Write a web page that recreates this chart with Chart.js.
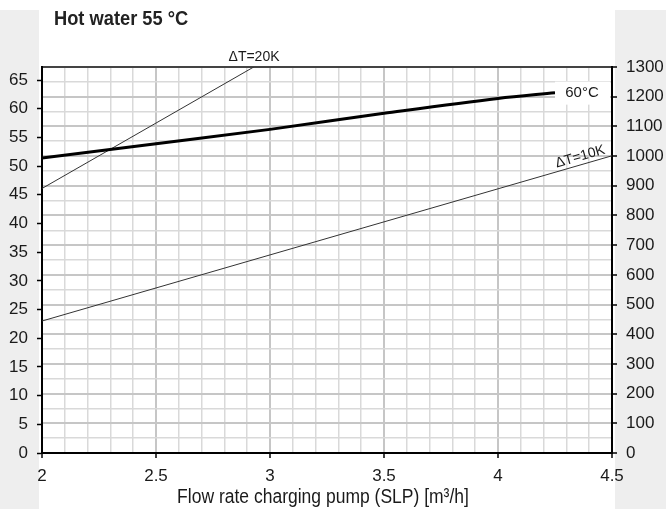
<!DOCTYPE html>
<html>
<head>
<meta charset="utf-8">
<script src="https://cdn.jsdelivr.net/npm/chart.js@4.4.1/dist/chart.umd.min.js"></script>
<style>
  html, body { margin: 0; padding: 0; background: #fff; }
  #wrap { width: 666px; height: 513px; position: relative; }
</style>
</head>
<body>
<div id="wrap"><canvas id="chart" width="666" height="513"></canvas></div>
<script>
/* Hot water 55 °C — output vs. charging pump flow rate */
const flow60C   = [2, 2.5, 3, 3.5, 4, 4.25];
const power60C  = [51.4, 53.9, 56.4, 59.2, 61.8, 62.8];
const flowDT10  = [2, 4.5];
const powerDT10 = [23.0, 51.8];
const flowDT20  = [2, 2.93];
const powerDT20 = [46.1, 67.3];

const xMin = 2, xMax = 4.5;
const leftMax = 67.27;     // left axis top (1300 on the right axis)
const rightMax = 1300;

const FONT = '"Liberation Sans", Arial, sans-serif';
Chart.defaults.font.family = FONT;
Chart.defaults.color = '#1a1a1a';

const isMultiple = (v, step) => Math.abs(v / step - Math.round(v / step)) < 1e-6;
const toPts = (xs, ys) => xs.map((x, i) => ({ x, y: ys[i] }));

// condensed text, the reference uses a narrow face
function narrowText(ctx, text, x, y, font, squeeze) {
  ctx.save();
  ctx.font = font;
  ctx.translate(x, y);
  ctx.scale(squeeze, 1);
  ctx.fillText(text, 0, 0);
  ctx.restore();
}

const decor = {
  id: 'decor',
  beforeDraw(chart) {
    const { ctx, chartArea: a, width, height } = chart;
    ctx.save();
    ctx.fillStyle = '#eeeeee';
    ctx.fillRect(0, 10, a.left - 3, height - 14);
    ctx.fillRect(a.right + 3, 10, width - a.right - 3, height - 14);
    ctx.restore();
  },
  afterDraw(chart) {
    const { ctx, chartArea: a, scales: { x, y } } = chart;
    ctx.save();

    // title
    ctx.fillStyle = '#222';
    ctx.textBaseline = 'middle';
    ctx.textAlign = 'left';
    narrowText(ctx, 'Hot water 55 °C', 54, 19, 'bold 21px ' + FONT, 0.87);

    // axis title
    ctx.fillStyle = '#1a1a1a';
    ctx.textAlign = 'center';
    narrowText(ctx, 'Flow rate charging pump (SLP) [m³/h]', (a.left + a.right) / 2 - 4, 497, '20px ' + FONT, 0.875);

    // ΔT=20K above the plot where the line leaves it
    ctx.font = '14px ' + FONT;
    ctx.fillText('\u0394T=20K', x.getPixelForValue(flowDT20[1]), a.top - 10);

    // 60°C label box at the end of the thick line
    const ex = x.getPixelForValue(flow60C[flow60C.length - 1]);
    const ey = y.getPixelForValue(power60C[power60C.length - 1]);
    ctx.fillStyle = '#fff';
    ctx.fillRect(ex, ey - 11, a.right - ex - 2, 23);
    ctx.fillStyle = '#1a1a1a';
    ctx.font = '15px ' + FONT;
    ctx.fillText('60°C', ex + 27, ey);

    // ΔT=10K rotated along its line
    const x0 = x.getPixelForValue(flowDT10[0]), y0 = y.getPixelForValue(powerDT10[0]);
    const x1 = x.getPixelForValue(flowDT10[1]), y1 = y.getPixelForValue(powerDT10[1]);
    const ang = Math.atan2(y1 - y0, x1 - x0);
    const lx = x.getPixelForValue(4.37);
    const ly = y0 + (y1 - y0) * (lx - x0) / (x1 - x0);
    ctx.translate(lx, ly);
    ctx.rotate(ang);
    ctx.font = '14px ' + FONT;
    ctx.textBaseline = 'bottom';
    ctx.fillText('\u0394T=10K', 0, -1);
    ctx.restore();
  }
};

new Chart(document.getElementById('chart'), {
  type: 'scatter',
  data: {
    datasets: [
      { label: '60°C', data: toPts(flow60C, power60C), showLine: true, borderColor: '#000',
        borderWidth: 3, pointRadius: 0, cubicInterpolationMode: 'monotone', yAxisID: 'y' },
      { label: 'ΔT=10K', data: toPts(flowDT10, powerDT10), showLine: true, borderColor: '#333',
        borderWidth: 1, pointRadius: 0, yAxisID: 'y' },
      { label: 'ΔT=20K', data: toPts(flowDT20, powerDT20), showLine: true, borderColor: '#333',
        borderWidth: 1, pointRadius: 0, yAxisID: 'y' }
    ]
  },
  options: {
    responsive: false,
    animation: false,
    layout: { padding: { top: 67, left: 0, right: 0, bottom: 0 } },
    plugins: { legend: { display: false }, tooltip: { enabled: false } },
    scales: {
      x: {
        type: 'linear', min: xMin, max: xMax,
        afterFit: s => { s.height = 60; },
        ticks: {
          stepSize: 0.1, autoSkip: false, maxRotation: 0, padding: 8,
          font: { size: 17 },
          callback: v => isMultiple(v, 0.5) ? String(+v.toFixed(1)) : ''
        },
        grid: {
          color: c => isMultiple(c.tick.value, 0.5) ? '#c6c6c6' : '#d9d9d9',
          lineWidth: c => isMultiple(c.tick.value, 0.5) ? 2 : 1.5,
          tickColor: c => isMultiple(c.tick.value, 0.5) ? '#000' : 'transparent',
          tickLength: 5, tickWidth: 1.5
        },
        border: { color: '#000', width: 2 }
      },
      y: {
        position: 'left', min: 0, max: leftMax,
        afterFit: s => { s.width = 42; },
        ticks: { stepSize: 5, includeBounds: false, padding: 9, font: { size: 17 } },
        grid: { drawOnChartArea: false, tickColor: '#000', tickLength: 5, tickWidth: 1.5 },
        border: { color: '#000', width: 2 }
      },
      y1: {
        position: 'right', min: 0, max: rightMax,
        afterFit: s => { s.width = 54; },
        ticks: {
          stepSize: 50, autoSkip: false, padding: 9, font: { size: 17 },
          callback: v => isMultiple(v, 100) ? String(v) : ''
        },
        grid: {
          color: c => c.tick.value === rightMax ? '#444' : (isMultiple(c.tick.value, 100) ? '#c6c6c6' : '#d9d9d9'),
          lineWidth: c => isMultiple(c.tick.value, 100) ? 2 : 1.5,
          tickColor: c => isMultiple(c.tick.value, 100) ? '#000' : 'transparent',
          tickLength: 5, tickWidth: 1.5
        },
        border: { color: '#000', width: 2 }
      }
    }
  },
  plugins: [decor]
});
</script>
</body>
</html>
